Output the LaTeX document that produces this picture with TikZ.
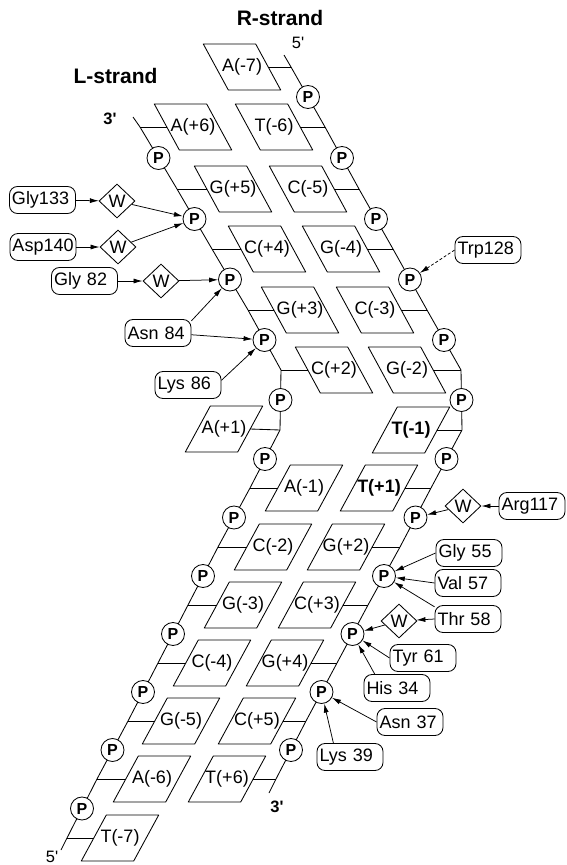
\documentclass[tikz,border=0pt]{standalone}
\usepackage{fontspec}
\setmainfont{Liberation Sans}
\usetikzlibrary{shapes.geometric,calc,arrows.meta}

% one base: a named text node plus its leaning parallelogram
% #1 name, #2 x, #3 y, #4 label, #5 = 1 leans back (top to the left), -1 leans forward
\newcommand\basebox[5]{%
  \node[basetext] (#1) at (#2,#3) {#4};
  \draw[boxline] ($(#1.west)+({-12.5*(#5)},-23)$) -- ($(#1.east)+({-12.5*(#5)},-23)$)
    -- ($(#1.east)+({12.5*(#5)},23)$) -- ($(#1.west)+({12.5*(#5)},23)$) -- cycle;
}

\begin{document}
\begin{tikzpicture}[x=1pt,y=-1pt,
  bb/.style={line width=0.85pt},
  rung/.style={line width=0.85pt},
  pnode/.style={circle,draw,line width=0.85pt,fill=white,minimum size=23pt,inner sep=0pt,
    font=\fontsize{16}{16}\selectfont\bfseries},
  basetext/.style={minimum width=52pt,minimum height=46pt,inner sep=0pt,
    font=\fontsize{18}{18}\selectfont},
  boxline/.style={line width=0.85pt,line join=round},
  res/.style={draw,rounded corners=8pt,minimum height=27pt,text width=61pt,align=left,
    inner xsep=2.5pt,inner ysep=0pt,line width=0.85pt,font=\fontsize{18}{18}\selectfont},
  wat/.style={diamond,draw,minimum width=36pt,minimum height=34pt,inner sep=0pt,
    line width=0.85pt,font=\fontsize{18}{18}\selectfont},
  arr/.style={-{Latex[length=9pt,width=5pt]},line width=0.75pt},
  endtag/.style={font=\fontsize{16.5}{16.5}\selectfont},
  boldtag/.style={font=\fontsize{16.5}{16.5}\selectfont\bfseries},
  title/.style={font=\fontsize{21}{21}\selectfont\bfseries,anchor=base}
]
\useasboundingbox (0,0) rectangle (566,865);

% titles
\node[title] (rtitle) at (280,25) {R-strand};
\node[title] (ltitle) at (115.5,83) {L-strand};

% strand ends
\node[endtag] (r5) at (298,43) {5\textquotesingle};
\node[boldtag] (l3) at (110,119) {3\textquotesingle};
\node[endtag] (l5) at (52,857) {5\textquotesingle};
\node[boldtag] (r3) at (277,807) {3\textquotesingle};

% backbone junctions, L-strand
\coordinate (Ltop) at (133,117);
\coordinate (L2) at (140,127);
\coordinate (L3) at (177,189);
\coordinate (L4) at (212,249);
\coordinate (L5) at (248,310);
\coordinate (L6) at (281,370);
\coordinate (L7) at (280,430);
\coordinate (L8) at (250,488);
\coordinate (L9) at (218,547);
\coordinate (L10) at (188,605);
\coordinate (L11) at (158,663);
\coordinate (L12) at (128,721);
\coordinate (L13) at (97,779);
\coordinate (L14) at (67,838);
\coordinate (Lend) at (61,850);

% backbone junctions, R-strand
\coordinate (Rtop) at (284,55);
\coordinate (R1) at (291,67);
\coordinate (R2) at (325,127);
\coordinate (R3) at (359,189);
\coordinate (R4) at (393,249);
\coordinate (R5) at (427,310);
\coordinate (R6) at (461,370);
\coordinate (R7) at (462,430);
\coordinate (R8) at (431,488);
\coordinate (R9) at (400,547);
\coordinate (R10) at (368,605);
\coordinate (R11) at (337,663);
\coordinate (R12) at (306,721);
\coordinate (R13) at (276,779);
\coordinate (Rend) at (269,793);

% backbones
\draw[bb] (Ltop) -- (L2) -- (L3) -- (L4) -- (L5) -- (L6) -- (L7) -- (L8) -- (L9)
  -- (L10) -- (L11) -- (L12) -- (L13) -- (L14) -- (Lend);
\draw[bb] (Rtop) -- (R1) -- (R2) -- (R3) -- (R4) -- (R5) -- (R6) -- (R7) -- (R8)
  -- (R9) -- (R10) -- (R11) -- (R12) -- (R13) -- (Rend);

% bases
\basebox{bAm7}{242}{67}{A(-7)}{1}
\basebox{bAp6}{193}{127}{A(+6)}{1}
\basebox{bTm6}{274}{127}{T(-6)}{1}
\basebox{bGp5}{233}{189}{G(+5)}{1}
\basebox{bCm5}{308}{189}{C(-5)}{1}
\basebox{bCp4}{267}{249}{C(+4)}{1}
\basebox{bGm4}{341}{249}{G(-4)}{1}
\basebox{bGp3}{300}{310}{G(+3)}{1}
\basebox{bCm3}{375}{310}{C(-3)}{1}
\basebox{bCp2}{334}{370}{C(+2)}{1}
\basebox{bGm2}{407}{370}{G(-2)}{1}
\basebox{bAp1}{224}{429}{A(+1)}{-1}
\basebox{bTm1}{411}{430}{\bfseries T(-1)}{-1}
\basebox{bAm1}{304}{488}{A(-1)}{-1}
\basebox{bTp1}{379}{488}{\bfseries T(+1)}{-1}
\basebox{bCm2}{273}{547}{C(-2)}{-1}
\basebox{bGp2}{346}{547}{G(+2)}{-1}
\basebox{bGm3}{243}{605}{G(-3)}{-1}
\basebox{bCp3}{317}{605}{C(+3)}{-1}
\basebox{bCm4}{212}{663}{C(-4)}{-1}
\basebox{bGp4}{285}{663}{G(+4)}{-1}
\basebox{bGm5}{181}{721}{G(-5)}{-1}
\basebox{bCp5}{257}{721}{C(+5)}{-1}
\basebox{bAm6}{152}{779}{A(-6)}{-1}
\basebox{bTp6}{227}{779}{T(+6)}{-1}
\basebox{bTm7}{120}{838}{T(-7)}{-1}

% rungs, R-strand
\draw[rung] (bAm7.east) -- (R1);
\draw[rung] (bTm6.east) -- (R2);
\draw[rung] (bCm5.east) -- (R3);
\draw[rung] (bGm4.east) -- (R4);
\draw[rung] (bCm3.east) -- (R5);
\draw[rung] (bGm2.east) -- (R6);
\draw[rung] (bTm1.east) -- (R7);
\draw[rung] (bTp1.east) -- (R8);
\draw[rung] (bGp2.east) -- (R9);
\draw[rung] (bCp3.east) -- (R10);
\draw[rung] (bGp4.east) -- (R11);
\draw[rung] (bCp5.east) -- (R12);
\draw[rung] (bTp6.east) -- (R13);

% rungs, L-strand
\draw[rung] (L2) -- (bAp6.west);
\draw[rung] (L3) -- (bGp5.west);
\draw[rung] (L4) -- (bCp4.west);
\draw[rung] (L5) -- (bGp3.west);
\draw[rung] (L6) -- (bCp2.west);
\draw[rung] (bAp1.east) -- (L7);
\draw[rung] (L8) -- (bAm1.west);
\draw[rung] (L9) -- (bCm2.west);
\draw[rung] (L10) -- (bGm3.west);
\draw[rung] (L11) -- (bCm4.west);
\draw[rung] (L12) -- (bGm5.west);
\draw[rung] (L13) -- (bAm6.west);
\draw[rung] (L14) -- (bTm7.west);

% phosphates
\foreach \a/\b in {1/2,2/3,3/4,4/5,5/6,6/7,7/8,8/9,9/10,10/11,11/12,12/13}
  \node[pnode] (RP\a) at ($(R\a)!0.5!(R\b)$) {P};
\foreach \a/\b in {2/3,3/4,4/5,5/6,6/7,7/8,8/9,9/10,10/11,11/12,12/13,13/14}
  \node[pnode] (LP\a) at ($(L\a)!0.5!(L\b)$) {P};

% protein residues
\node[res] (gly133) at (42.5,200) {Gly133};
\node[res] (asp140) at (43,247) {Asp140};
\node[res] (gly82) at (84.5,281) {Gly 82};
\node[res] (asn84) at (158,333) {Asn 84};
\node[res] (lys86) at (188,385) {Lys 86};
\node[res] (trp128) at (488,250) {Trp128};
\node[res] (arg117) at (532,506) {Arg117};
\node[res] (gly55) at (469,553) {Gly 55};
\node[res] (val57) at (468,583) {Val 57};
\node[res] (thr58) at (468,619) {Thr 58};
\node[res] (tyr61) at (423,658) {Tyr 61};
\node[res] (his34) at (397,688) {His 34};
\node[res] (asn37) at (410,722) {Asn 37};
\node[res] (lys39) at (350,757) {Lys 39};

% bridging waters
\node[wat] (w1) at (117,201) {W};
\node[wat] (w2) at (118,247) {W};
\node[wat] (w3) at (161,281) {W};
\node[wat] (w4) at (463,506) {W};
\node[wat] (w5) at (399,621) {W};

% contacts
\draw[arr] (gly133) -- (w1);
\draw[arr] (w1) -- (LP3);
\draw[arr] (asp140) -- (w2);
\draw[arr] (w2) -- (LP3);
\draw[arr] (gly82) -- (w3);
\draw[arr] (w3) -- (LP4);
\draw[arr] (asn84.20) -- (LP4);
\draw[arr] (asn84.-3) -- (LP5);
\draw[arr] (lys86.8) -- (LP5);
\draw[arr,dash pattern=on 3pt off 2pt] (trp128.west) -- (RP4);
\draw[arr] (arg117) -- (w4);
\draw[arr] (w4) -- (RP8);
\draw[arr] (gly55.west) -- (RP9);
\draw[arr] (val57.west) -- (RP9);
\draw[arr] (thr58.160) -- (RP9);
\draw[arr] (thr58.west) -- (w5);
\draw[arr] (w5) -- (RP10);
\draw[arr] (tyr61.west) -- (RP10);
\draw[arr] (his34.148) -- (RP10);
\draw[arr] (asn37.west) -- (RP11);
\draw[arr] (lys39.140) -- (RP11);
\end{tikzpicture}
\end{document}
